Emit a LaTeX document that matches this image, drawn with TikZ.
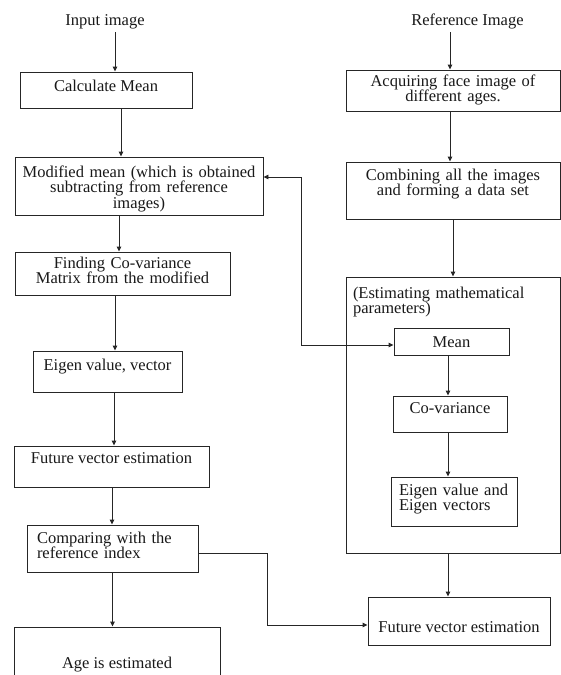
\documentclass[tikz,border=0pt]{standalone}
\usepackage{fontspec}
\setmainfont{Liberation Serif}
\usetikzlibrary{arrows.meta}
\newcommand\figfont{\fontsize{16.5}{15.5}\selectfont}
\begin{document}
\begin{tikzpicture}[x=1pt,y=-1pt,
  every node/.style={font=\figfont, text=black!90},
  bx/.style={draw=black!85, line width=0.9pt, inner sep=0pt, anchor=base},
  arr/.style={draw=black!85, line width=0.9pt, -{Triangle[length=5pt,width=4.5pt]}},
  ln/.style={draw=black!85, line width=0.9pt}]
\useasboundingbox (0,0) rectangle (561,675);
\clip (0,0) rectangle (561,675);

% left column
\node[anchor=base] (inp) at (105,25) {Input image};
\node[bx, minimum width=172pt, text height=19pt, text depth=17pt] (calc) at (106,91) {Calculate Mean};
\node[bx, text width=248pt, align=center, text height=20pt, text depth=38pt] (mod) at (139,177)
  {Modified mean (which is obtained\\ subtracting from reference\\ images)};
\node[bx, text width=215pt, align=center, text height=16pt, text depth=27pt] (find) at (122.5,268)
  {Finding Co-variance\\ Matrix from the modified};
\node[bx, minimum width=149pt, text height=19pt, text depth=22pt] (eig) at (107.5,370) {Eigen value, vector};
\node[bx, minimum width=195pt, text height=17pt, text depth=24pt] (futL) at (111.5,463) {Future vector estimation};
\node[bx, inner xsep=10pt, text width=151pt, align=left, text height=18pt, text depth=29pt] (comp) at (112.5,543)
  {Comparing with the\\ reference index};
\node[bx, minimum width=206pt, text height=41pt, text depth=40pt] (age) at (117,668) {Age is estimated};

% right column
\node[anchor=base] (ref) at (467.5,25) {Reference Image};
\node[bx, text width=214pt, align=center, text height=16pt, text depth=25pt] (acq) at (453,86)
  {Acquiring face image of\\ different ages.};
\node[bx, text width=214pt, align=center, text height=18pt, text depth=39pt] (comb) at (453,180)
  {Combining all the images\\ and forming a data set};
\node[bx, inner xsep=7pt, text width=200pt, align=left, text height=21pt, text depth=255pt] (big) at (453,298)
  {(Estimating mathematical\\ parameters)};
\node[bx, minimum width=115pt, text height=19pt, text depth=8pt] (mean) at (451.5,347) {Mean};
\node[bx, minimum width=114pt, text height=17pt, text depth=19pt] (cov) at (450,413) {Co-variance};
\node[bx, inner xsep=8pt, text width=110pt, align=left, text height=18pt, text depth=31pt] (eigR) at (454,495)
  {Eigen value and\\ Eigen vectors};
\node[bx, minimum width=182pt, text height=35pt, text depth=13pt] (futR) at (459,632) {Future vector estimation};

% left connectors
\draw[arr] ([xshift=10pt]inp.south) -- ([xshift=10pt]inp.south |- calc.north);
\draw[arr] ([xshift=15pt]calc.south) -- ([xshift=15pt]calc.south |- mod.north);
\draw[arr] ([xshift=-20pt]mod.south) -- ([xshift=-20pt]mod.south |- find.north);
\draw[arr] ([xshift=-7.5pt]find.south) -- ([xshift=-7.5pt]find.south |- eig.north);
\draw[arr] ([xshift=6.5pt]eig.south) -- ([xshift=6.5pt]eig.south |- futL.north);
\draw[arr] ([xshift=0.5pt]futL.south) -- ([xshift=0.5pt]futL.south |- comp.north);
\draw[arr] (comp.south) -- (comp.south |- age.north);
\coordinate (c1) at (267,625);
\draw[arr] ([yshift=-4.5pt]comp.east) -| (c1) -- (c1 -| futR.west);

% right connectors
\draw[arr] ([xshift=-3pt]acq.north |- ref.south) -- ([xshift=-3pt]acq.north);
\draw[arr] ([xshift=-3pt]acq.south) -- ([xshift=-3pt]acq.south |- comb.north);
\draw[arr] (comb.south) -- (big.north);
\draw[arr] ([xshift=-3.5pt]mean.south) -- ([xshift=-3.5pt]mean.south |- cov.north);
\draw[arr] ([xshift=-2pt]cov.south) -- ([xshift=-2pt]cov.south |- eigR.north);
\draw[arr] ([xshift=-5pt]big.south) -- ([xshift=-5pt]big.south |- futR.north);

% feedback
\coordinate (j) at (301,345);
\draw[arr] (j) -- (j -| mean.west);
\draw[arr] (j) |- ([yshift=9pt]mod.east);
\end{tikzpicture}
\end{document}
